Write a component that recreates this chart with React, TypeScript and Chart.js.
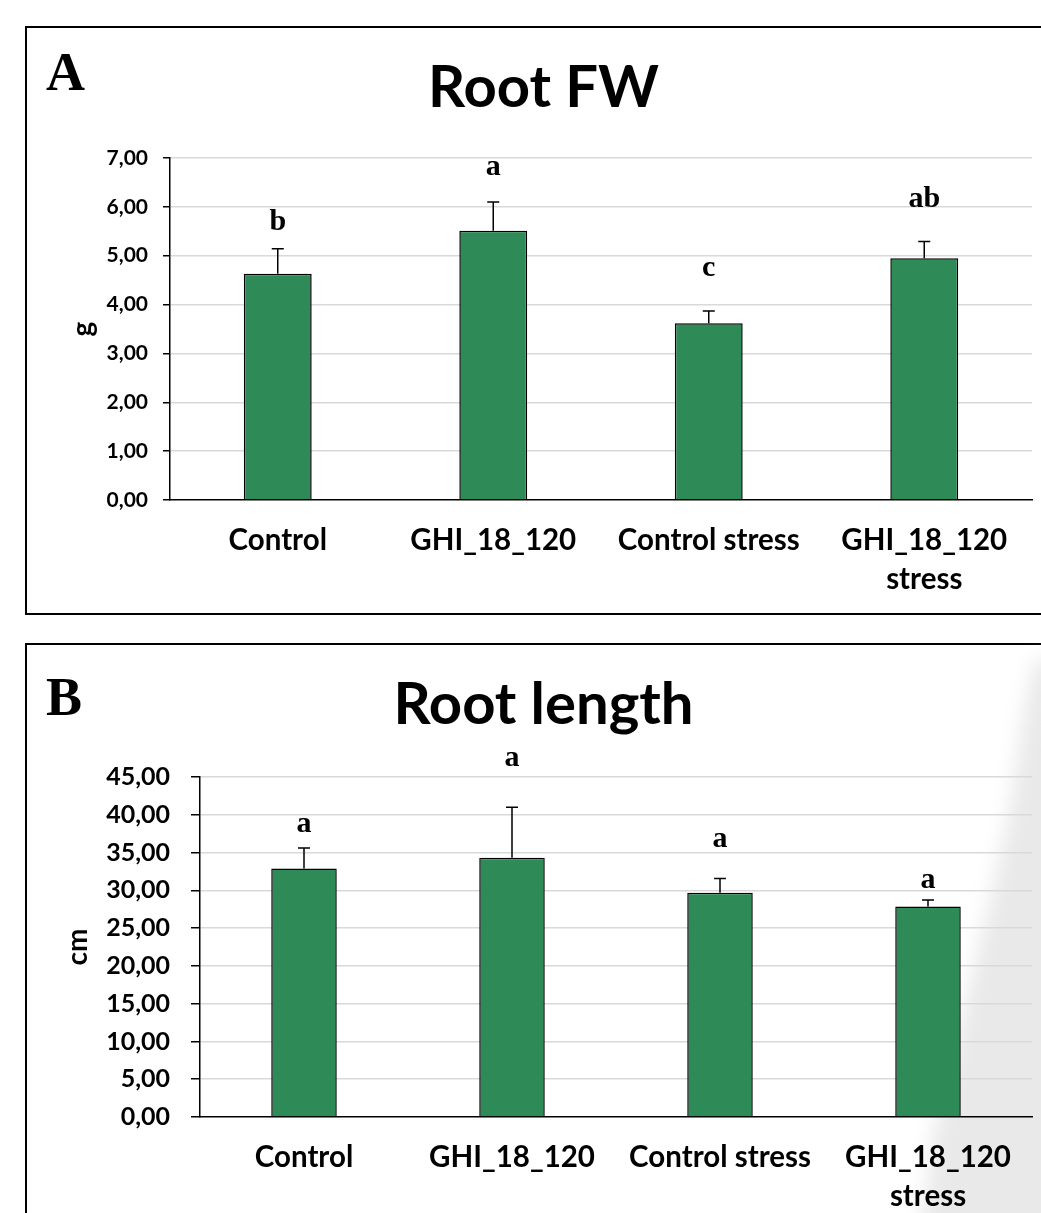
import React, { useEffect, useRef } from "react";
import { Chart, registerables } from "chart.js";

Chart.register(...registerables);

// ---------- data ----------
const categories: string[][] = [["Control"], ["GHI_18_120"], ["Control stress"], ["GHI_18_120", "stress"]];

const fwMeans = [4.63, 5.51, 3.62, 4.95];
const fwErrors = [0.51, 0.59, 0.25, 0.34];
const fwLetters = ["b", "a", "c", "ab"];
const fwLetterAt = [5.52, 6.65, 4.58, 6.0];
const fwMax = 7;
const fwStep = 1;

const lenMeans = [32.9, 34.3, 29.67, 27.87];
const lenErrors = [2.7, 6.7, 1.9, 0.84];
const lenLetters = ["a", "a", "a", "a"];
const lenLetterAt = [37.76, 46.45, 35.77, 30.35];
const lenMax = 45;
const lenStep = 5;

const SANS = "Lato";
const SERIF = "Liberation Serif";
const BAR_GREEN = "#2e8b57";

type PanelProps = {
  top: number;
  height: number;
  panelLetter: string;
  title: string;
  titleBaseline: number;
  letterBaseline: number;
  yTitle: string;
  yTitleSize: number;
  yTitlePad: number;
  means: number[];
  errors: number[];
  letters: string[];
  letterAt: number[];
  max: number;
  step: number;
  chartTop: number;
  yWidth: number;
  xHeight: number;
  tickSize: number;
  tickLength: number;
  tickPad: number;
};

function Panel(p: PanelProps) {
  const ref = useRef<HTMLCanvasElement | null>(null);
  useEffect(() => {
    const canvas = ref.current;
    if (!canvas) return;
    const decor = {
      id: "decor",
      afterDatasetsDraw(chart: any) {
        const ctx = chart.ctx as CanvasRenderingContext2D;
        const meta = chart.getDatasetMeta(0);
        const ys = chart.scales.y;
        ctx.save();
        ctx.strokeStyle = "#000";
        ctx.lineWidth = 1.5;
        meta.data.forEach((bar: any, i: number) => {
          const y0 = ys.getPixelForValue(p.means[i]);
          const y1 = ys.getPixelForValue(p.means[i] + p.errors[i]);
          ctx.beginPath();
          ctx.moveTo(bar.x, y0);
          ctx.lineTo(bar.x, y1);
          ctx.moveTo(bar.x - 6, y1);
          ctx.lineTo(bar.x + 6, y1);
          ctx.stroke();
          ctx.fillStyle = "#000";
          ctx.font = `bold 30px "${SERIF}"`;
          ctx.textAlign = "center";
          ctx.textBaseline = "alphabetic";
          ctx.fillText(p.letters[i], bar.x, ys.getPixelForValue(p.letterAt[i]));
        });
        // panel letter
        ctx.fillStyle = "#000";
        ctx.textAlign = "left";
        ctx.font = `bold 54px "${SERIF}"`;
        ctx.fillText(p.panelLetter, 46, p.letterBaseline);
        // title
        ctx.textAlign = "center";
        ctx.font = `bold 58px "${SANS}"`;
        ctx.fillText(p.title, 543.5, p.titleBaseline);
        ctx.restore();
      },
    };
    const chart = new Chart(canvas, {
      type: "bar",
      data: {
        labels: categories as any,
        datasets: [
          {
            data: p.means,
            backgroundColor: BAR_GREEN,
            borderColor: "#000",
            borderWidth: 1.5,
            barPercentage: 0.315,
            categoryPercentage: 1,
          },
        ],
      },
      options: {
        responsive: false,
        animation: false,
        layout: { padding: { top: p.chartTop, left: 0, right: 9, bottom: 0 } },
        plugins: { legend: { display: false }, tooltip: { enabled: false }, title: { display: false } },
        scales: {
          x: {
            grid: { display: false, drawTicks: false },
            border: { display: true, color: "#000", width: 1.5 },
            ticks: {
              color: "#000",
              font: { family: SANS, weight: "bold", size: 29.5, lineHeight: 1.32 },
              padding: 21.5,
              maxRotation: 0,
              autoSkip: false,
            },
            afterFit: (s: any) => {
              s.height = p.xHeight;
            },
          },
          y: {
            min: 0,
            max: p.max,
            ticks: {
              stepSize: p.step,
              color: "#000",
              font: { family: SANS, weight: "bold", size: p.tickSize },
              padding: p.tickPad,
              callback: (v: any) => Number(v).toFixed(2).replace(".", ","),
            },
            grid: {
              color: (c: any) => (c.tick && c.tick.value === 0 ? "rgba(0,0,0,0)" : "#d9d9d9"),
              lineWidth: 1.5,
              tickColor: "#000",
              tickLength: p.tickLength,
              tickWidth: 1.5,
            },
            border: { display: true, color: "#000", width: 1.5 },
            title: {
              display: true,
              text: p.yTitle,
              color: "#000",
              font: { family: SANS, weight: "bold", size: p.yTitleSize },
              padding: { top: p.yTitlePad, bottom: 0 },
            },
            afterFit: (s: any) => {
              s.width = p.yWidth;
            },
          },
        },
      } as any,
      plugins: [decor],
    });
    return () => chart.destroy();
  }, []);
  return (
    <canvas
      ref={ref}
      width={1041}
      height={p.height}
      style={{ position: "absolute", left: 0, top: p.top, width: 1041, height: p.height, display: "block" }}
    />
  );
}

export default function App() {
  return (
    <div
      style={{
        position: "fixed",
        left: 0,
        top: 0,
        width: 1041,
        height: 1213,
        overflow: "hidden",
        background: "#fff",
      }}
    >
      <div
        style={{
          position: "absolute",
          left: 25,
          top: 26,
          width: 1100,
          height: 589,
          border: "2px solid #000",
          boxSizing: "border-box",
        }}
      />
      <div
        style={{
          position: "absolute",
          left: 25,
          top: 643,
          width: 1100,
          height: 700,
          border: "2px solid #000",
          boxSizing: "border-box",
        }}
      />
      <div style={{ position: "absolute", left: 0, top: 0, width: 1041, height: 1213, filter: "blur(10px)" }}>
        <div
          style={{
            position: "absolute",
            left: 0,
            top: 0,
            width: 1100,
            height: 1260,
            background: "#e9e9e9",
            clipPath:
              "polygon(1100px 660px, 1036px 660px, 1026px 700px, 1008px 820px, 990px 900px, 966px 1000px, 934px 1133px, 916px 1260px, 1100px 1260px)",
          }}
        />
      </div>
      <Panel
        top={0}
        height={620}
        panelLetter="A"
        title="Root FW"
        titleBaseline={107}
        letterBaseline={90}
        yTitle="g"
        yTitleSize={28}
        yTitlePad={66}
        means={fwMeans}
        errors={fwErrors}
        letters={fwLetters}
        letterAt={fwLetterAt}
        max={fwMax}
        step={fwStep}
        chartTop={158}
        yWidth={170}
        xHeight={120}
        tickSize={21}
        tickLength={7}
        tickPad={15}
      />
      <Panel
        top={620}
        height={593}
        panelLetter="B"
        title="Root length"
        titleBaseline={104}
        letterBaseline={95}
        yTitle="cm"
        yTitleSize={28}
        yTitlePad={61}
        means={lenMeans}
        errors={lenErrors}
        letters={lenLetters}
        letterAt={lenLetterAt}
        max={lenMax}
        step={lenStep}
        chartTop={157}
        yWidth={200}
        xHeight={96}
        tickSize={25}
        tickLength={9}
        tickPad={21}
      />
    </div>
  );
}
